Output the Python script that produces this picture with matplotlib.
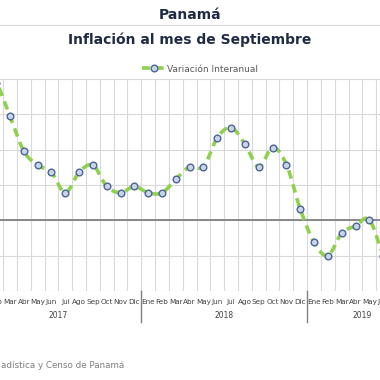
import numpy as np
import matplotlib
matplotlib.use("Agg")
import matplotlib.pyplot as plt
from matplotlib.lines import Line2D

# ---- data ----
months = ["Ene", "Feb", "Mar", "Abr", "May", "Jun", "Jul", "Ago", "Sep", "Oct", "Nov", "Dic"]
years = ["2017", "2018", "2019"]
months_per_year = [12, 12, 8]
values_2017 = [2.10, 1.95, 1.47, 0.98, 0.78, 0.68, 0.39, 0.68, 0.78, 0.48, 0.39, 0.48]
values_2018 = [0.39, 0.39, 0.58, 0.76, 0.76, 1.17, 1.31, 1.08, 0.755, 1.03, 0.79, 0.16]
values_2019 = [-0.31, -0.50, -0.18, -0.08, 0.01, -0.51]
series_name = "Variación Interanual"

values = np.array(values_2017 + values_2018 + values_2019)
n_cat = sum(months_per_year)
labels = [months[i % 12] for i in range(n_cat)]

# ---- smoothing (Catmull-Rom, like a spreadsheet smoothed line) ----
def catmull_rom(x, y, steps=20):
    px = np.concatenate([[2 * x[0] - x[1]], x, [2 * x[-1] - x[-2]]])
    py = np.concatenate([[2 * y[0] - y[1]], y, [2 * y[-1] - y[-2]]])
    xs, ys = [], []
    for i in range(1, len(px) - 2):
        t = np.linspace(0, 1, steps, endpoint=False)
        p0, p1, p2, p3 = py[i - 1], py[i], py[i + 1], py[i + 2]
        q0, q1, q2, q3 = px[i - 1], px[i], px[i + 1], px[i + 2]
        f = lambda a0, a1, a2, a3: 0.5 * ((2 * a1) + (-a0 + a2) * t +
                                           (2 * a0 - 5 * a1 + 4 * a2 - a3) * t ** 2 +
                                           (-a0 + 3 * a1 - 3 * a2 + a3) * t ** 3)
        xs.append(f(q0, q1, q2, q3))
        ys.append(f(p0, p1, p2, p3))
    xs.append([x[-1]]); ys.append([y[-1]])
    return np.concatenate(xs), np.concatenate(ys)

W = H = 380
fig = plt.figure(figsize=(3.8, 3.8), dpi=100)
fig.patch.set_facecolor("white")

# axes geometry in pixels
step = 13.82
left_px = 10 - 2.5 * step
right_px = left_px + n_cat * step
top_px, bot_px = 79, 291
ax = fig.add_axes([left_px / W, 1 - bot_px / H, (right_px - left_px) / W, (bot_px - top_px) / H])
ax.set_xlim(-0.5, n_cat - 0.5)
ax.set_ylim(-1.0, 2.0)

for s in ax.spines.values():
    s.set_visible(False)
ax.set_yticks(np.arange(-1.0, 2.01, 0.5))
ax.set_yticklabels([])
ax.tick_params(axis="y", length=0)
ax.grid(axis="y", color="#d9d9d9", lw=0.8)
ax.set_xticks(np.arange(-0.5, n_cat, 1), minor=True)
ax.grid(axis="x", which="minor", color="#d9d9d9", lw=0.8)
ax.set_xticks(np.arange(n_cat))
ax.set_xticklabels(labels, fontsize=5.2, color="#404040")
ax.tick_params(axis="x", which="both", length=0, pad=6)
ax.axhline(0, color="#808080", lw=1.3, zorder=2)

x = np.arange(len(values))
sx, sy = catmull_rom(x.astype(float), values)
ax.plot(sx, sy, color="#8fd14f", lw=2.6, ls=(0, (2.4, 1.6)), zorder=3, solid_capstyle="butt")
ax.plot(x, values, ls="none", marker="o", ms=4.8, mfc="#c9d4e6", mec="#4a6596", mew=1.0, zorder=4)

# year labels and separators
start = 0
for yr, m in zip(years, months_per_year):
    c = start + (m - 1) / 2
    ax.text(c, -0.095, yr, transform=ax.get_xaxis_transform(), ha="center", va="top",
            fontsize=5.5, color="#404040")
    start += m
    if start < n_cat:
        b = start - 0.5
        ax.plot([b, b], [0, -0.145], transform=ax.get_xaxis_transform(), color="#808080",
                lw=1.0, clip_on=False)

# titles
fig.text(0.5, 1 - 15 / H, "Panamá", ha="center", va="center", fontsize=10,
         fontweight="bold", color="#1f2b45")
fig.add_artist(Line2D([0, 1], [1 - 25 / H, 1 - 25 / H], color="#d9d9d9", lw=0.8))
fig.text(0.5, 1 - 40 / H, "Inflación al mes de Septiembre", ha="center", va="center",
         fontsize=10, fontweight="bold", color="#1f2b45")

# legend
h = Line2D([0], [0], color="#8fd14f", lw=2.6, ls=(0, (2.2, 1.6)), marker="o", ms=4.8,
           mfc="#c9d4e6", mec="#4a6596")
fig.legend([h], [series_name], loc="center", bbox_to_anchor=(200 / W, 1 - 69 / H),
           frameon=False, fontsize=6.5, labelcolor="#595959", handlelength=2.6,
           handletextpad=0.2)

fig.text(1 / W, 1 - 366 / H, "adística y Censo de Panamá", ha="left", va="center",
         fontsize=6.3, color="#7f7f7f")

fig.savefig("out.png", dpi=100)
